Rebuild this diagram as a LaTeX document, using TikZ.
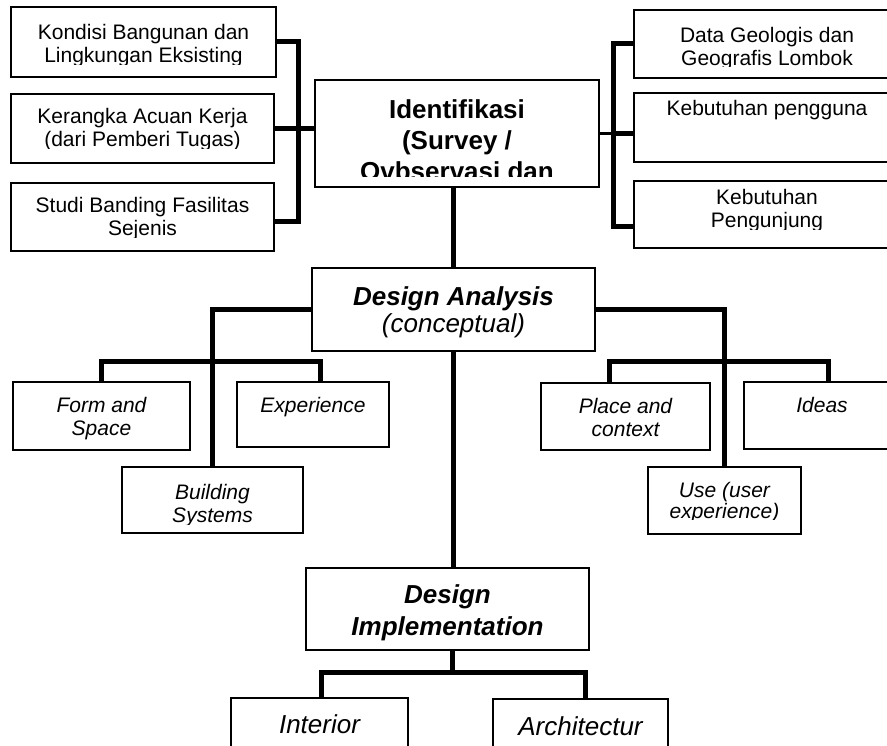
\documentclass[tikz,border=0pt]{standalone}
\usepackage{fontspec}
\setmainfont{Liberation Sans}
\usepackage{tikz}

% box with clipped text: name, x1, y1, x2, y2, text y, clip y, style, text
\newcommand\tbox[9]{%
  \node[box, minimum width={(#4-#2)*1pt}, minimum height={(#5-#3)*1pt}] (#1) at ({(#2+#4)/2},{-(#3+#5)/2}) {};
  \begin{scope}
    \clip (#2,-#7) rectangle (#4,-#3);
    \node[#8] (#1txt) at ({(#2+#4)/2},-#6) {#9};
  \end{scope}}

\begin{document}
\begin{tikzpicture}[x=1pt,y=1pt,
    box/.style={draw,line width=1.6pt,inner sep=0pt},
    link/.style={line width=5pt},
    thin link/.style={line width=2.2pt},
    txt/.style={inner sep=0pt,align=center,font=\fontsize{21}{23}\selectfont},
    itxt/.style={inner sep=0pt,align=center,font=\fontsize{21}{23}\selectfont\itshape},
    head/.style={inner sep=0pt,align=center,font=\fontsize{26}{31}\selectfont\bfseries}]
  \useasboundingbox (0,0) rectangle (887,-746);

  % sources on the left
  \tbox{kondisi}{11}{7}{276}{77}{45.7}{65}{txt}{Kondisi Bangunan dan\\Lingkungan Eksisting}
  \tbox{kerangka}{11}{94}{274}{163}{129.2}{149}{txt}{Kerangka Acuan Kerja\\(dari Pemberi Tugas)}
  \tbox{studi}{11}{183}{274}{251}{218.2}{238}{txt}{Studi Banding Fasilitas\\Sejenis}

  % identification
  \tbox{ident}{315}{80}{599}{187}{140.3}{177}{head}{Identifikasi\\(Survey /\\Ovbservasi dan}

  % sources on the right
  \tbox{geo}{634}{10}{900}{78}{48.2}{67}{txt}{Data Geologis dan\\Geografis Lombok}
  \tbox{pengguna}{634}{93}{900}{162}{109.7}{162}{txt}{Kebutuhan pengguna}
  \tbox{kunjung}{634}{181}{900}{248}{210.2}{230}{txt}{Kebutuhan\\Pengunjung}

  % analysis
  \tbox{da}{312}{268}{595}{351}{312}{351}{head,font=\fontsize{26}{27}\selectfont\itshape}{\textbf{Design Analysis}\\(conceptual)}
  \tbox{fs}{13}{382}{190}{450}{418.2}{450}{itxt}{Form and\\Space}
  \tbox{exp}{237}{382}{389}{447}{406.7}{447}{itxt}{Experience}
  \tbox{bs}{122}{467}{303}{533}{505.2}{524}{itxt}{Building\\Systems}
  \tbox{place}{541}{383}{710}{450}{417.5}{450}{itxt}{Place and\\context}
  \tbox{ideas}{744}{382}{900}{449}{404.5}{449}{itxt}{Ideas}
  \tbox{use}{648}{467}{801}{534}{502.7}{519.5}{itxt,font=\fontsize{21}{21}\selectfont\itshape}{Use (user\\experience)}

  % implementation
  \tbox{di}{306}{568}{589}{650}{613}{650}{head,font=\fontsize{26}{32}\selectfont\bfseries\itshape}{Design\\Implementation}
  \tbox{interior}{231}{698}{408}{780}{724.3}{780}{itxt,font=\fontsize{26}{31}\selectfont\itshape}{Interior}
  \tbox{arch}{493}{699}{668}{780}{726}{780}{itxt,font=\fontsize{26}{31}\selectfont\itshape}{Architectur}

  % brackets
  \coordinate (lt) at (298,-42);
  \coordinate (lb) at (298,-222);
  \draw[link] (kondisi.east) -- (lt) -- (lb) -- (lb -| studi.east);
  \draw[link] (kerangka.east) -- (kerangka.east -| ident.west);
  \coordinate (rt) at (613,-44);
  \coordinate (rb) at (613,-227);
  \draw[thin link] (ident.east) -- (ident.east -| rt);
  \draw[link] (geo.west) -- (rt) -- (rb) -- (rb -| kunjung.west);
  \draw[link] ([yshift=-6pt]pengguna.west) -- ++(-21,0);

  % tree
  \draw[link] (ident.south -| da.north) -- (da.north);
  \draw[link] (da.west) -| (bs.north);
  \draw[link] (da.east) -| (use.north);
  \draw[link] (fs.north) -- ++(0,20) -| ([xshift=7pt]exp.north);
  \draw[link] ([xshift=-16pt]place.north) -- ++(0,21) -| ([xshift=6pt]ideas.north);
  \coordinate (dij) at (452,-672);
  \draw[link] (da.south) -- (da.south |- di.north);
  \draw[link] (di.south -| dij) -- (dij);
  \draw[link] ([xshift=2pt]interior.north) |- (dij) -| ([xshift=5pt]arch.north);
\end{tikzpicture}
\end{document}
